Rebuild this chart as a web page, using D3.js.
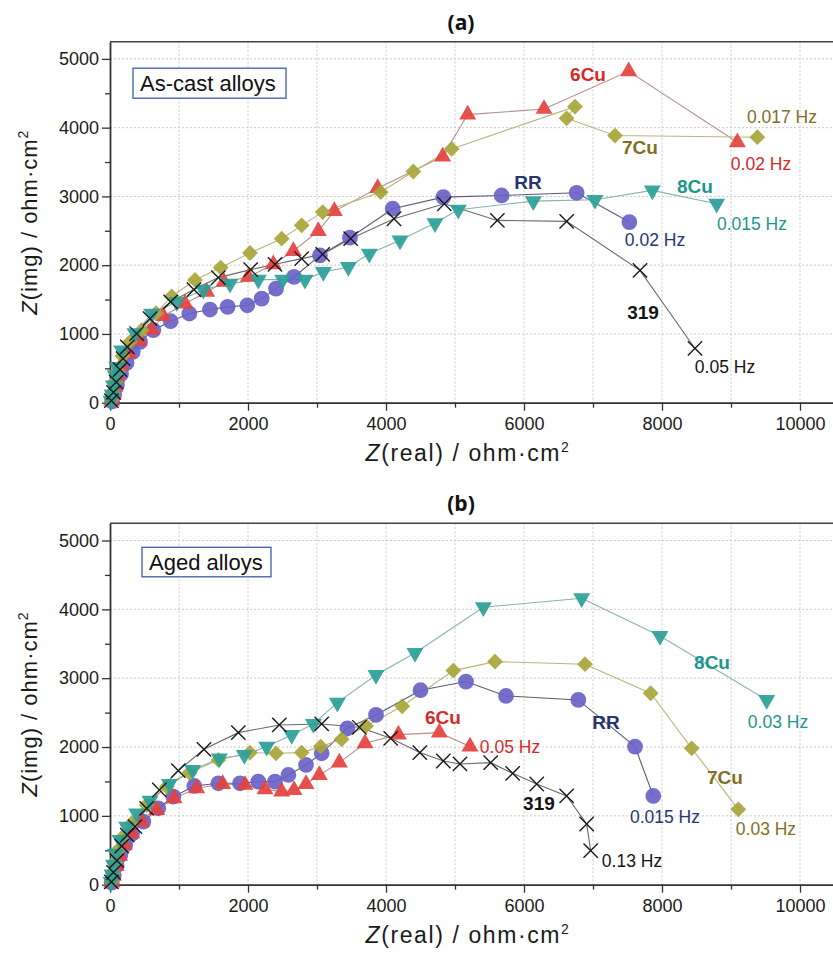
<!DOCTYPE html>
<html>
<head>
<meta charset="utf-8">
<script src="https://cdn.jsdelivr.net/npm/d3@7"></script>
<style>
  body { margin: 0; background: #fff; }
  svg { display: block; font-family: "Liberation Sans", Arial, sans-serif; }
</style>
</head>
<body>
<div id="chart"></div>
<script>
// Nyquist data, [Z(real), Z(img)] in ohm·cm2
// (a) as-cast alloys
const asCast319 = [[20,30],[50,150],[90,300],[145,480],[190,640],[251,813],[386,1006],[580,1224],[879,1466],[1217,1645],[1570,1819],[2039,1935],[2391,2013],[2778,2095],[3082,2158],[3488,2385],[4116,2675],[4845,2893],[5614,2651],[6618,2637],[7681,1925],[8478,789]];
const asCastRR = [[30,20],[60,120],[100,260],[160,420],[240,580],[330,740],[435,885],[628,1055],[879,1185],[1150,1297],[1449,1355],[1705,1393],[1990,1417],[2198,1514],[2406,1659],[2667,1829],[3043,2143],[3478,2400],[4097,2821],[4831,2990],[5676,3014],[6763,3053],[7527,2627]];
const asCast6Cu = [[25,30],[45,110],[70,230],[105,380],[160,540],[266,716],[425,900],[604,1064],[773,1258],[1087,1442],[1401,1611],[1652,1756],[2005,1829],[2367,2013],[2657,2206],[3019,2496],[3251,2787],[3880,3120],[4821,3580],[5184,4190],[6290,4272],[7517,4819],[9092,3788]];
const asCast7Cu = [[20,40],[40,150],[70,300],[110,460],[180,680],[290,885],[459,1055],[667,1302],[894,1545],[1232,1785],[1604,1965],[2029,2177],[2488,2385],[2778,2579],[3082,2772],[3923,3062],[4396,3362],[4952,3691],[6739,4306],[6618,4136],[7319,3885],[9382,3861]];
const asCast8Cu = [[15,30],[30,120],[50,250],[75,400],[100,520],[169,760],[362,1012],[604,1296],[966,1466],[1353,1645],[1739,1732],[2150,1790],[2502,1790],[2826,1790],[3092,1901],[3454,1974],[3758,2167],[4203,2361],[4710,2612],[5048,2806],[6135,2932],[7029,2951],[7860,3087],[8792,2893]];

// (b) aged alloys
const aged319 = [[20,40],[50,180],[100,350],[170,560],[250,720],[362,843],[531,1110],[715,1376],[990,1657],[1362,1967],[1860,2209],[2454,2321],[3068,2335],[3614,2287],[4068,2127],[4490,1919],[4831,1797],[5072,1754],[5517,1773],[5836,1618],[6184,1463],[6618,1289],[6908,882],[6966,494]];
const agedRR = [[25,30],[55,140],[95,280],[150,430],[220,580],[320,740],[483,916],[700,1110],[918,1279],[1222,1434],[1570,1473],[1884,1473],[2150,1497],[2391,1497],[2585,1594],[2841,1739],[3068,1909],[3440,2272],[3855,2466],[4500,2825],[5159,2951],[5739,2742],[6787,2684],[7609,2006],[7874,1289]];
const aged6Cu = [[25,30],[50,130],[90,270],[140,420],[210,580],[314,746],[459,916],[676,1085],[928,1255],[1256,1400],[1633,1463],[1957,1449],[2246,1386],[2488,1352],[2667,1376],[2841,1463],[3034,1594],[3324,1773],[3696,2054],[4180,2180],[4773,2209],[5217,2006]];
const aged7Cu = [[20,50],[40,170],[70,330],[110,500],[170,680],[314,891],[531,1158],[821,1424],[1150,1628],[1570,1812],[2029,1919],[2406,1909],[2778,1919],[3053,2006],[3357,2112],[3710,2306],[4235,2592],[4976,3110],[5580,3241],[6884,3203],[7836,2781],[8430,1981],[9106,1095]];
const aged8Cu = [[15,40],[30,150],[50,290],[80,450],[145,649],[242,843],[386,1037],[580,1221],[860,1463],[1198,1667],[1585,1836],[1947,1885],[2271,2006],[2633,2175],[2947,2335],[3295,2645],[3855,3047],[4420,3367],[5411,4031],[6836,4162],[7971,3614],[9517,2684]];

// annotations: [text, series, Z(real), Z(img)]
const asCastNotes = [
  ['6Cu', '6Cu', 6928, 4785], ['0.017 Hz', '7Cu', 9739, 4160], ['7Cu', '7Cu', 7681, 3711],
  ['0.02 Hz', '6Cu', 9435, 3479], ['RR', 'RR', 6058, 3203], ['8Cu', '8Cu', 8478, 3145],
  ['0.015 Hz', '8Cu', 9304, 2608], ['0.02 Hz', 'RR', 7899, 2376], ['319', '319', 7725, 1316],
  ['0.05 Hz', '319', 8913, 518]
];
const agedNotes = [
  ['8Cu', '8Cu', 8725, 3238], ['0.03 Hz', '8Cu', 9681, 2365], ['6Cu', '6Cu', 4826, 2437],
  ['0.05 Hz', '6Cu', 5797, 2002], ['RR', 'RR', 7188, 2365], ['7Cu', '7Cu', 8913, 1566],
  ['319', '319', 6217, 1187], ['0.015 Hz', 'RR', 8043, 983], ['0.03 Hz', '7Cu', 9507, 809],
  ['0.13 Hz', '319', 7565, 346]
];

const xTicks = [0, 2000, 4000, 6000, 8000, 10000];
const yTicks = [0, 1000, 2000, 3000, 4000, 5000];

// styles
const markColor = { '319': '#1a1a1a', RR: '#6a62c6', '6Cu': '#e5423e', '7Cu': '#a8a63a', '8Cu': '#2a9f98' };
const lineColor = { '319': '#6a6a6a', RR: '#5a5a78', '6Cu': '#b89090', '7Cu': '#bcb67c', '8Cu': '#86b4b0' };
const textColor = { '319': '#141414', RR: '#27356f', '6Cu': '#d42a2a', '7Cu': '#7f6f1f', '8Cu': '#1c958e' };
const drawOrder = ['RR', '6Cu', '7Cu', '8Cu', '319'];

const W = 833, H = 956;
const left = 110, right = 834.5;

const svg = d3.select('#chart').append('svg')
  .attr('width', W)
  .attr('height', H)
  .attr('viewBox', `0 0 ${W} ${H}`);

const x = d3.scaleLinear().domain([0, 10500]).range([left, right]);

function symbolFor(key) {
  const times = d3.symbolTimes || d3.symbolCross;
  if (key === '319') return d3.symbol(times, 135);
  if (key === 'RR') return d3.symbol(d3.symbolCircle, 195);
  if (key === '7Cu') return d3.symbol(d3.symbolSquare, 125);
  return d3.symbol(d3.symbolTriangle, 125);
}
function rotFor(key) {
  if (key === '7Cu') return 45;
  if (key === '8Cu') return 180;
  return 0;
}

function drawPanel(title, boxText, top, bottom, series, notes) {
  const y = d3.scaleLinear().domain([0, 5250]).range([bottom, top]);
  const g = svg.append('g');

  // grid
  g.append('g').selectAll('line')
    .data(d3.range(1000, 10001, 1000))
    .enter().append('line')
    .attr('x1', d => x(d)).attr('x2', d => x(d))
    .attr('y1', top).attr('y2', bottom)
    .attr('stroke', '#c9c9c9').attr('stroke-dasharray', '2,2');
  g.append('g').selectAll('line')
    .data(d3.range(1000, 5001, 1000))
    .enter().append('line')
    .attr('x1', left).attr('x2', right)
    .attr('y1', d => y(d)).attr('y2', d => y(d))
    .attr('stroke', '#c9c9c9').attr('stroke-dasharray', '2,2');

  // top frame
  g.append('line')
    .attr('x1', left).attr('x2', right).attr('y1', top).attr('y2', top)
    .attr('stroke', '#444').attr('stroke-width', 1.5);

  // minor ticks
  g.append('g')
    .attr('transform', `translate(0,${bottom})`)
    .call(d3.axisBottom(x).tickValues([1000, 3000, 5000, 7000, 9000]).tickSize(5).tickFormat(''))
    .call(a => a.select('.domain').remove())
    .selectAll('line').attr('stroke', '#333').attr('stroke-width', 1.3);
  g.append('g')
    .attr('transform', `translate(${left},0)`)
    .call(d3.axisLeft(y).tickValues([500, 1500, 2500, 3500, 4500]).tickSize(5).tickFormat(''))
    .call(a => a.select('.domain').remove())
    .selectAll('line').attr('stroke', '#333').attr('stroke-width', 1.3);

  // axes
  const xa = g.append('g')
    .attr('transform', `translate(0,${bottom})`)
    .call(d3.axisBottom(x).tickValues(xTicks).tickFormat(d3.format('d'))
      .tickSize(8).tickPadding(7).tickSizeOuter(0));
  const ya = g.append('g')
    .attr('transform', `translate(${left},0)`)
    .call(d3.axisLeft(y).tickValues(yTicks).tickFormat(d3.format('d'))
      .tickSize(8).tickPadding(3).tickSizeOuter(0));
  [xa, ya].forEach(a => {
    a.select('.domain').attr('stroke', '#333').attr('stroke-width', 1.8);
    a.selectAll('line').attr('stroke', '#333').attr('stroke-width', 1.3);
    a.selectAll('text').attr('font-size', 18).attr('fill', '#1a1a1a')
      .attr('font-family', '"Liberation Sans", Arial, sans-serif');
  });

  // titles
  svg.append('text')
    .attr('x', 461).attr('y', top - 12)
    .attr('text-anchor', 'middle')
    .attr('font-family', '"Open Sans", sans-serif')
    .attr('font-weight', 700).attr('font-size', 21)
    .attr('fill', '#111')
    .text(title);

  const xt = svg.append('text')
    .attr('x', 468).attr('y', bottom + 58)
    .attr('text-anchor', 'middle')
    .attr('font-size', 23).attr('letter-spacing', 1.6).attr('fill', '#1a1a1a');
  xt.append('tspan').attr('font-style', 'italic').text('Z');
  xt.append('tspan').text('(real) / ohm·cm');
  xt.append('tspan').attr('font-size', 14).attr('dy', -9).text('2');

  const yt = svg.append('text')
    .attr('transform', `translate(37,${(top + bottom) / 2}) rotate(-90)`)
    .attr('text-anchor', 'middle')
    .attr('font-size', 22).attr('letter-spacing', 1.0).attr('fill', '#1a1a1a');
  yt.append('tspan').attr('font-style', 'italic').text('Z');
  yt.append('tspan').text('(img) / ohm·cm');
  yt.append('tspan').attr('font-size', 14).attr('dy', -9).text('2');

  // label box
  const bx = g.append('g').attr('transform', `translate(${left + boxText.dx},${top + boxText.dy})`);
  bx.append('rect')
    .attr('width', boxText.w).attr('height', boxText.h)
    .attr('fill', '#fff').attr('stroke', '#3d5cae').attr('stroke-width', 1.3);
  bx.append('text')
    .attr('x', 7).attr('y', boxText.h - 7)
    .attr('font-size', 22).attr('fill', '#111')
    .text(boxText.text);

  // series
  const line = d3.line().x(d => x(d[0])).y(d => y(d[1]));
  drawOrder.forEach(key => {
    g.append('path')
      .datum(series[key])
      .attr('d', line)
      .attr('fill', 'none')
      .attr('stroke', lineColor[key])
      .attr('stroke-width', 1.1);
  });
  drawOrder.forEach(key => {
    const sym = symbolFor(key);
    const pts = g.append('g').selectAll('path')
      .data(series[key])
      .enter().append('path')
      .attr('d', sym)
      .attr('transform', d => `translate(${x(d[0])},${y(d[1])}) rotate(${rotFor(key)})`);
    if (key === '319') {
      pts.attr('fill', 'none').attr('stroke', markColor[key]).attr('stroke-width', 1.4);
    } else {
      pts.attr('fill', markColor[key]).attr('fill-opacity', 0.92);
    }
  });

  // annotations
  g.append('g').selectAll('text')
    .data(notes)
    .enter().append('text')
    .attr('x', d => x(d[2])).attr('y', d => y(d[3]))
    .attr('dy', '0.36em')
    .attr('text-anchor', 'middle')
    .attr('font-size', d => d[0].includes('Hz') ? 17.5 : 19)
    .attr('font-weight', d => d[0].includes('Hz') ? 400 : 700)
    .attr('fill', d => textColor[d[1]])
    .text(d => d[0]);
}

drawPanel('(a)', { text: 'As-cast alloys', dx: 23, dy: 26.5, w: 153, h: 30 }, 41.7, 402.7,
  { '319': asCast319, RR: asCastRR, '6Cu': asCast6Cu, '7Cu': asCast7Cu, '8Cu': asCast8Cu }, asCastNotes);
drawPanel('(b)', { text: 'Aged alloys', dx: 32, dy: 24, w: 129, h: 29.5 }, 523.3, 884.7,
  { '319': aged319, RR: agedRR, '6Cu': aged6Cu, '7Cu': aged7Cu, '8Cu': aged8Cu }, agedNotes);
</script>
</body>
</html>
